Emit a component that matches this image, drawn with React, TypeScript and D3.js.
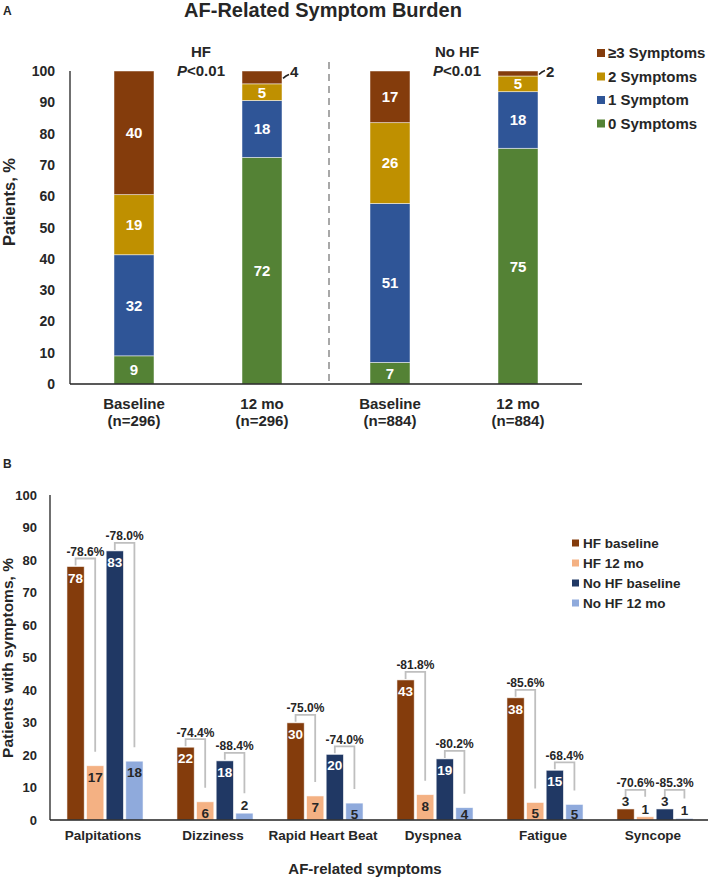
import React from "react";
import * as d3 from "d3";

// ---------- Panel A data ----------
const topCategories = ["Baseline", "12 mo", "Baseline", "12 mo"];
const topSubLabels = ["(n=296)", "(n=296)", "(n=884)", "(n=884)"];
const symptomLevels = ["0 Symptoms", "1 Symptom", "2 Symptoms", "≥3 Symptoms"];
const zeroSymptoms = [9, 72.4, 6.9, 75.3];
const oneSymptom = [32.3, 18.2, 50.8, 18.1];
const twoSymptoms = [19.2, 5.3, 25.8, 5.0];
const threePlusSymptoms = [39.5, 4.1, 16.5, 1.6];
const groupLabels = ["HF", "No HF"];
const groupPValues = ["<0.01", "<0.01"];
const topTicks = [0, 10, 20, 30, 40, 50, 60, 70, 80, 90, 100];

// ---------- Panel B data ----------
const symptoms = ["Palpitations", "Dizziness", "Rapid Heart Beat", "Dyspnea", "Fatigue", "Syncope"];
const seriesNames = ["HF baseline", "HF 12 mo", "No HF baseline", "No HF 12 mo"];
const hfBaseline = [78, 22.4, 29.9, 43.1, 37.6, 3.4];
const hf12mo = [16.7, 5.6, 7.4, 7.8, 5.4, 1.0];
const noHfBaseline = [82.8, 18.2, 20.2, 18.8, 15.3, 3.4];
const noHf12mo = [18.1, 2.1, 5.2, 3.8, 4.8, 0.5];
const hfChange = ["-78.6%", "-74.4%", "-75.0%", "-81.8%", "-85.6%", "-70.6%"];
const noHfChange = ["-78.0%", "-88.4%", "-74.0%", "-80.2%", "-68.4%", "-85.3%"];
const bottomTicks = [0, 10, 20, 30, 40, 50, 60, 70, 80, 90, 100];

const FONT = "'Liberation Sans', Arial, Helvetica, sans-serif";
const TXT = "#262626";
const levelColors = ["#548235", "#2F5597", "#BF9000", "#843C0C"];
const seriesColors = ["#843C0C", "#F4B183", "#203864", "#8FAADC"];
const seriesTextColors = ["#ffffff", TXT, "#ffffff", TXT];
const BRACKET = "#BFBFBF";

function PanelA() {
  const x = d3
    .scaleBand<number>()
    .domain(d3.range(topCategories.length))
    .range([70, 582])
    .paddingInner(0.6875)
    .paddingOuter(0.34375);
  const y = d3.scaleLinear().domain([0, 100]).range([384, 71]);
  const levels = [zeroSymptoms, oneSymptom, twoSymptoms, threePlusSymptoms];
  const stackData = topCategories.map((_, i) => {
    const o: any = {};
    levels.forEach((arr, k) => (o["k" + k] = arr[i]));
    return o;
  });
  const stacked = d3.stack<any>().keys(levels.map((_, k) => "k" + k))(stackData);
  const bw = x.bandwidth();

  return (
    <g>
      <text x={3} y={15} fontSize={12} fontWeight="bold" fill={TXT}>A</text>
      <text x={323} y={17} fontSize={20} fontWeight="bold" textAnchor="middle" fill={TXT}>
        AF-Related Symptom Burden
      </text>
      {/* y axis */}
      <line x1={70} x2={70} y1={y(100)} y2={y(0)} stroke="#222" strokeWidth={1.3} />
      {topTicks.map((t) => (
        <text key={t} x={55} y={y(t)} dy="0.36em" fontSize={14} fontWeight="bold" textAnchor="end" fill={TXT}>
          {t}
        </text>
      ))}
      <text
        transform={`translate(15,202) rotate(-90)`}
        fontSize={16.5}
        fontWeight="bold"
        textAnchor="middle"
        fill={TXT}
      >
        Patients, %
      </text>
      {/* divider */}
      <line x1={329} x2={329} y1={62} y2={382} stroke="#8c8c8c" strokeWidth={1.5} strokeDasharray="7,5" />
      {/* bars */}
      {stacked.map((layer, k) =>
        layer.map((d, i) => {
          const x0 = x(i)!;
          const v = d[1] - d[0];
          const yTop = y(d[1]);
          const yBot = y(d[0]);
          return (
            <g key={k + "-" + i}>
              <rect x={x0} y={yTop} width={bw} height={yBot - yTop} fill={levelColors[k]} stroke="#ffffff" strokeOpacity={0.6} strokeWidth={0.8} />
              {v >= 4.5 ? (
                <text x={x0 + bw / 2} y={(yTop + yBot) / 2} dy="0.36em" fontSize={15} fontWeight="bold" fill="#fff" textAnchor="middle">
                  {Math.round(v)}
                </text>
              ) : (
                <g>
                  <path
                    d={`M${x0 + bw + 1},${(yTop + yBot) / 2 + 1} Q${x0 + bw + 4},${(yTop + yBot) / 2 - 2} ${x0 + bw + 7},${(yTop + yBot) / 2 - 3}`}
                    stroke="#222"
                    strokeWidth={1.6}
                    fill="none"
                  />
                  <text x={x0 + bw + 8} y={77} fontSize={15} fontWeight="bold" fill={TXT}>
                    {Math.round(v)}
                  </text>
                </g>
              )}
            </g>
          );
        })
      )}
      {/* x axis */}
      <line x1={70} x2={582} y1={y(0)} y2={y(0)} stroke="#222" strokeWidth={1.5} />
      {topCategories.map((c, i) => (
        <g key={i}>
          <text x={x(i)! + bw / 2} y={409} fontSize={15} fontWeight="bold" textAnchor="middle" fill={TXT}>{c}</text>
          <text x={x(i)! + bw / 2} y={426} fontSize={15} fontWeight="bold" textAnchor="middle" fill={TXT}>{topSubLabels[i]}</text>
        </g>
      ))}
      {/* group labels */}
      {groupLabels.map((g, gi) => {
        const cx = (x(gi * 2)! + x(gi * 2 + 1)! + bw) / 2 + 3;
        return (
          <g key={g}>
            <text x={cx} y={57} fontSize={15} fontWeight="bold" textAnchor="middle" fill={TXT}>{g}</text>
            <text x={cx} y={76} fontSize={15} fontWeight="bold" textAnchor="middle" fill={TXT}>
              <tspan fontStyle="italic">P</tspan>
              {groupPValues[gi]}
            </text>
          </g>
        );
      })}
      {/* legend */}
      {symptomLevels
        .map((name, k) => ({ name, k }))
        .reverse()
        .map((d, r) => (
          <g key={d.name} transform={`translate(597,${53 + r * 23.5})`}>
            <rect x={0} y={-4} width={8} height={8} fill={levelColors[d.k]} />
            <text x={11} y={0} dy="0.36em" fontSize={15} fontWeight="bold" fill={TXT}>{d.name}</text>
          </g>
        ))}
    </g>
  );
}

function PanelB() {
  const x0 = d3.scaleBand<string>().domain(symptoms).range([50, 710]);
  const x1 = d3
    .scaleBand<number>()
    .domain([0, 1, 2, 3])
    .range([0, x0.bandwidth()])
    .paddingInner(0.12)
    .paddingOuter(0.865);
  const y = d3.scaleLinear().domain([0, 100]).range([820, 495]);
  const series = [hfBaseline, hf12mo, noHfBaseline, noHf12mo];
  const changes = [hfChange, noHfChange];
  const bw = x1.bandwidth();

  return (
    <g>
      <text x={3} y={468} fontSize={12} fontWeight="bold" fill={TXT}>B</text>
      <line x1={50} x2={50} y1={y(100)} y2={y(0)} stroke="#222" strokeWidth={1.3} />
      {bottomTicks.map((t) => (
        <text key={t} x={37} y={y(t)} dy="0.36em" fontSize={13} fontWeight="bold" textAnchor="end" fill={TXT}>
          {t}
        </text>
      ))}
      <text transform={`translate(13,658) rotate(-90)`} fontSize={15.5} fontWeight="bold" textAnchor="middle" fill={TXT}>
        Patients with symptoms, %
      </text>
      {symptoms.map((s, i) => {
        const gx = x0(s)!;
        return (
          <g key={s}>
            {series.map((arr, k) => {
              const v = arr[i];
              const bx = gx + x1(k)!;
              const top = y(v);
              const above = v < 3.5;
              return (
                <g key={k}>
                  <rect x={bx} y={top} width={bw} height={y(0) - top} fill={seriesColors[k]} stroke="#ffffff" strokeOpacity={0.7} strokeWidth={0.8} />
                  <text
                    x={bx + bw / 2}
                    y={above ? top - 3 : Math.min(top + 16, 819)}
                    fontSize={13.5}
                    fontWeight="bold"
                    textAnchor="middle"
                    fill={above ? TXT : seriesTextColors[k]}
                  >
                    {Math.round(v)}
                  </text>
                </g>
              );
            })}
            {[0, 1].map((p) => {
              const baseV = series[p * 2][i];
              const endV = series[p * 2 + 1][i];
              const lx = gx + x1(p * 2)! + bw / 2;
              const rx = gx + x1(p * 2 + 1)! + bw / 2;
              const hl = y(baseV) - (baseV < 3.5 ? 19 : 8);
              const re = y(endV) - (endV < 3.5 ? 20 : 14);
              return (
                <g key={p}>
                  <path d={`M${lx},${hl + 7} V${hl} H${rx} V${re}`} fill="none" stroke={BRACKET} strokeWidth={1.8} />
                  <text x={(lx + rx) / 2} y={hl - 2.5} fontSize={12} fontWeight="bold" textAnchor="middle" fill={TXT}>
                    {changes[p][i]}
                  </text>
                </g>
              );
            })}
            <text x={gx + x0.bandwidth() / 2 - 2} y={840} fontSize={13.5} fontWeight="bold" textAnchor="middle" fill={TXT}>
              {s}
            </text>
          </g>
        );
      })}
      <line x1={50} x2={708} y1={y(0)} y2={y(0)} stroke="#222" strokeWidth={1.5} />
      <text x={365} y={874} fontSize={15} fontWeight="bold" textAnchor="middle" fill={TXT}>
        AF-related symptoms
      </text>
      {seriesNames.map((n, k) => (
        <g key={n} transform={`translate(572,${543 + k * 20})`}>
          <rect x={0} y={-3.5} width={7} height={7} fill={seriesColors[k]} />
          <text x={11} y={0} dy="0.36em" fontSize={13.5} fontWeight="bold" fill={TXT}>{n}</text>
        </g>
      ))}
    </g>
  );
}

export default function App() {
  return (
    <svg
      width={709}
      height={877}
      viewBox="0 0 709 877"
      style={{ position: "absolute", left: 0, top: 0, background: "#fff", fontFamily: FONT }}
    >
      <rect width={709} height={877} fill="#fff" />
      <PanelA />
      <PanelB />
    </svg>
  );
}
